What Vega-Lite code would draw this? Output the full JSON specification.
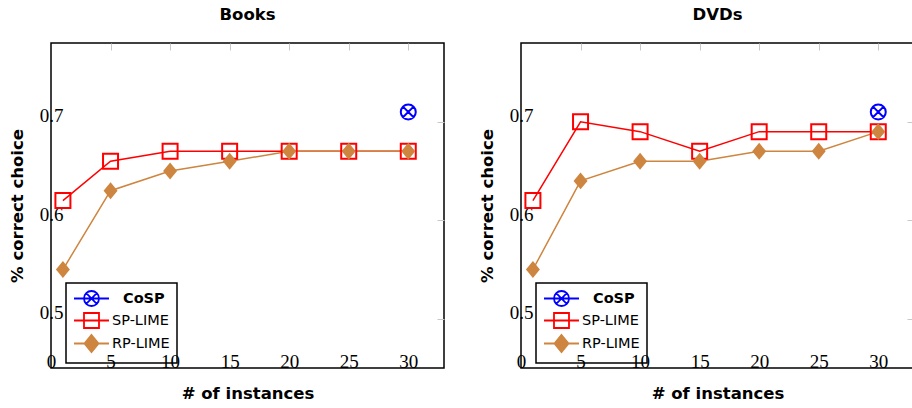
{
  "$schema": "https://vega.github.io/schema/vega-lite/v6.json",
  "background": "white",
  "padding": {"left": 8, "top": 6, "right": 0, "bottom": 0},
  "data": {"values": [
    {"panel": "Books", "series": "SP-LIME", "n": 1, "v": 0.62},
    {"panel": "Books", "series": "SP-LIME", "n": 5, "v": 0.66},
    {"panel": "Books", "series": "SP-LIME", "n": 10, "v": 0.67},
    {"panel": "Books", "series": "SP-LIME", "n": 15, "v": 0.67},
    {"panel": "Books", "series": "SP-LIME", "n": 20, "v": 0.67},
    {"panel": "Books", "series": "SP-LIME", "n": 25, "v": 0.67},
    {"panel": "Books", "series": "SP-LIME", "n": 30, "v": 0.67},
    {"panel": "Books", "series": "RP-LIME", "n": 1, "v": 0.55},
    {"panel": "Books", "series": "RP-LIME", "n": 5, "v": 0.63},
    {"panel": "Books", "series": "RP-LIME", "n": 10, "v": 0.65},
    {"panel": "Books", "series": "RP-LIME", "n": 15, "v": 0.66},
    {"panel": "Books", "series": "RP-LIME", "n": 20, "v": 0.67},
    {"panel": "Books", "series": "RP-LIME", "n": 25, "v": 0.67},
    {"panel": "Books", "series": "RP-LIME", "n": 30, "v": 0.67},
    {"panel": "Books", "series": "CoSP", "n": 30, "v": 0.71},
    {"panel": "DVDs", "series": "SP-LIME", "n": 1, "v": 0.62},
    {"panel": "DVDs", "series": "SP-LIME", "n": 5, "v": 0.70},
    {"panel": "DVDs", "series": "SP-LIME", "n": 10, "v": 0.69},
    {"panel": "DVDs", "series": "SP-LIME", "n": 15, "v": 0.67},
    {"panel": "DVDs", "series": "SP-LIME", "n": 20, "v": 0.69},
    {"panel": "DVDs", "series": "SP-LIME", "n": 25, "v": 0.69},
    {"panel": "DVDs", "series": "SP-LIME", "n": 30, "v": 0.69},
    {"panel": "DVDs", "series": "RP-LIME", "n": 1, "v": 0.55},
    {"panel": "DVDs", "series": "RP-LIME", "n": 5, "v": 0.64},
    {"panel": "DVDs", "series": "RP-LIME", "n": 10, "v": 0.66},
    {"panel": "DVDs", "series": "RP-LIME", "n": 15, "v": 0.66},
    {"panel": "DVDs", "series": "RP-LIME", "n": 20, "v": 0.67},
    {"panel": "DVDs", "series": "RP-LIME", "n": 25, "v": 0.67},
    {"panel": "DVDs", "series": "RP-LIME", "n": 30, "v": 0.69},
    {"panel": "DVDs", "series": "CoSP", "n": 30, "v": 0.71}
  ]},
  "spacing": 32,
  "resolve": {"legend": {"color": "independent"}},
  "hconcat": [
    {
      "title": "Books",
      "width": 393, "height": 325,
      "transform": [{"filter": "datum.panel === 'Books'"}],
      "resolve": {"axis": {"x": "independent", "y": "independent"}},
      "layer": [
        {
          "transform": [{"filter": "datum.series !== 'CoSP'"}],
          "mark": {"type": "line", "strokeWidth": 1.5},
          "encoding": {
            "x": {"field": "n", "type": "quantitative", "scale": {"domain": [0, 33], "nice": false, "zero": false},
                  "axis": {"orient": "bottom", "zindex": 2, "values": [0, 5, 10, 15, 20, 25, 30], "title": "# of instances", "ticks": false, "tickSize": 0, "domain": false, "grid": false, "labelPadding": -1, "labelBaseline": "alphabetic", "labelFlush": false, "labelOverlap": false, "titlePadding": 14}},
            "y": {"field": "v", "type": "quantitative", "scale": {"domain": [0.45, 0.78], "nice": false, "zero": false},
                  "axis": {"orient": "left", "values": [0.5, 0.6, 0.7], "format": ".1f", "title": "% correct choice", "ticks": false, "tickSize": 0, "domain": false, "grid": false, "labelPadding": 0, "labelAlign": "center", "labelBaseline": "alphabetic", "labelFlush": false, "labelOverlap": false, "titlePadding": 14}},
            "color": {"field": "series", "type": "nominal", "scale": {"domain": ["CoSP", "SP-LIME", "RP-LIME"], "range": ["#0000ff", "#ff0000", "#cd853f"]},
                      "legend": {
                        "orient": "none", "legendX": 15, "legendY": 240, "title": null, "zindex": 1,
                        "encode": {
                          "legend": {"update": {"strokeWidth": {"value": 1.5}}},
                          "symbols": {"update": {
                            "shape": {"signal": "datum.value === 'CoSP' ? 'M-2.33,0H2.33M1,0A1,1,0,1,1,-1,0A1,1,0,1,1,1,0ZM-0.707,-0.707L0.707,0.707M-0.707,0.707L0.707,-0.707' : datum.value === 'SP-LIME' ? 'M-2.33,0H2.33M-1,-1H1V1H-1Z' : 'M-2.33,0H2.33M0,-1.13L0.93,0L0,1.13L-0.93,0Z'"},
                            "fill": {"signal": "datum.value === 'RP-LIME' ? '#cd853f' : 'transparent'"},
                            "opacity": {"value": 1}
                          }},
                          "labels": {"update": {
                            "fontWeight": {"signal": "datum.value === 'CoSP' ? 'bold' : 'normal'"},
                            "dx": {"signal": "datum.value === 'CoSP' ? 11 : 0"}
                          }}
                        }
                      }}
          }
        },
        {
          "transform": [{"filter": "datum.series === 'SP-LIME'"}],
          "mark": {"type": "point", "shape": "square", "filled": false, "size": 225, "strokeWidth": 2, "color": "#ff0000", "opacity": 1},
          "encoding": {
            "x": {"field": "n", "type": "quantitative", "axis": {"orient": "top", "values": [5, 10, 15, 20, 25, 30], "labels": false, "title": null, "ticks": true, "tickSize": -7, "tickColor": "#c8c8c8", "domain": false, "grid": false}},
            "y": {"field": "v", "type": "quantitative", "axis": {"orient": "right", "values": [0.5, 0.6, 0.7], "labels": false, "title": null, "ticks": true, "tickSize": -7, "tickColor": "#c8c8c8", "domain": false, "grid": false}}
          }
        },
        {
          "transform": [{"filter": "datum.series === 'RP-LIME'"}],
          "mark": {"type": "point", "shape": "M0,-1.13L0.93,0L0,1.13L-0.93,0Z", "filled": true, "size": 225, "color": "#cd853f", "opacity": 1},
          "encoding": {
            "x": {"field": "n", "type": "quantitative", "axis": null},
            "y": {"field": "v", "type": "quantitative", "axis": null}
          }
        },
        {
          "transform": [{"filter": "datum.series === 'CoSP'"}],
          "mark": {"type": "point", "shape": "M1,0A1,1,0,1,1,-1,0A1,1,0,1,1,1,0ZM-0.707,-0.707L0.707,0.707M-0.707,0.707L0.707,-0.707", "filled": false, "size": 225, "strokeWidth": 2, "color": "#0000ff", "opacity": 1},
          "encoding": {
            "x": {"field": "n", "type": "quantitative", "axis": null},
            "y": {"field": "v", "type": "quantitative", "axis": null}
          }
        }
      ]
    },
    {
      "title": "DVDs",
      "width": 393, "height": 325,
      "transform": [{"filter": "datum.panel === 'DVDs'"}],
      "resolve": {"axis": {"x": "independent", "y": "independent"}},
      "layer": [
        {
          "transform": [{"filter": "datum.series !== 'CoSP'"}],
          "mark": {"type": "line", "strokeWidth": 1.5},
          "encoding": {
            "x": {"field": "n", "type": "quantitative", "scale": {"domain": [0, 33], "nice": false, "zero": false},
                  "axis": {"orient": "bottom", "zindex": 2, "values": [0, 5, 10, 15, 20, 25, 30], "title": "# of instances", "ticks": false, "tickSize": 0, "domain": false, "grid": false, "labelPadding": -1, "labelBaseline": "alphabetic", "labelFlush": false, "labelOverlap": false, "titlePadding": 14}},
            "y": {"field": "v", "type": "quantitative", "scale": {"domain": [0.45, 0.78], "nice": false, "zero": false},
                  "axis": {"orient": "left", "values": [0.5, 0.6, 0.7], "format": ".1f", "title": "% correct choice", "ticks": false, "tickSize": 0, "domain": false, "grid": false, "labelPadding": 0, "labelAlign": "center", "labelBaseline": "alphabetic", "labelFlush": false, "labelOverlap": false, "titlePadding": 14}},
            "color": {"field": "series", "type": "nominal", "scale": {"domain": ["CoSP", "SP-LIME", "RP-LIME"], "range": ["#0000ff", "#ff0000", "#cd853f"]},
                      "legend": {
                        "orient": "none", "legendX": 15, "legendY": 240, "title": null, "zindex": 1,
                        "encode": {
                          "legend": {"update": {"strokeWidth": {"value": 1.5}}},
                          "symbols": {"update": {
                            "shape": {"signal": "datum.value === 'CoSP' ? 'M-2.33,0H2.33M1,0A1,1,0,1,1,-1,0A1,1,0,1,1,1,0ZM-0.707,-0.707L0.707,0.707M-0.707,0.707L0.707,-0.707' : datum.value === 'SP-LIME' ? 'M-2.33,0H2.33M-1,-1H1V1H-1Z' : 'M-2.33,0H2.33M0,-1.13L0.93,0L0,1.13L-0.93,0Z'"},
                            "fill": {"signal": "datum.value === 'RP-LIME' ? '#cd853f' : 'transparent'"},
                            "opacity": {"value": 1}
                          }},
                          "labels": {"update": {
                            "fontWeight": {"signal": "datum.value === 'CoSP' ? 'bold' : 'normal'"},
                            "dx": {"signal": "datum.value === 'CoSP' ? 11 : 0"}
                          }}
                        }
                      }}
          }
        },
        {
          "transform": [{"filter": "datum.series === 'SP-LIME'"}],
          "mark": {"type": "point", "shape": "square", "filled": false, "size": 225, "strokeWidth": 2, "color": "#ff0000", "opacity": 1},
          "encoding": {
            "x": {"field": "n", "type": "quantitative", "axis": {"orient": "top", "values": [5, 10, 15, 20, 25, 30], "labels": false, "title": null, "ticks": true, "tickSize": -7, "tickColor": "#c8c8c8", "domain": false, "grid": false}},
            "y": {"field": "v", "type": "quantitative", "axis": {"orient": "right", "values": [0.5, 0.6, 0.7], "labels": false, "title": null, "ticks": true, "tickSize": -7, "tickColor": "#c8c8c8", "domain": false, "grid": false}}
          }
        },
        {
          "transform": [{"filter": "datum.series === 'RP-LIME'"}],
          "mark": {"type": "point", "shape": "M0,-1.13L0.93,0L0,1.13L-0.93,0Z", "filled": true, "size": 225, "color": "#cd853f", "opacity": 1},
          "encoding": {
            "x": {"field": "n", "type": "quantitative", "axis": null},
            "y": {"field": "v", "type": "quantitative", "axis": null}
          }
        },
        {
          "transform": [{"filter": "datum.series === 'CoSP'"}],
          "mark": {"type": "point", "shape": "M1,0A1,1,0,1,1,-1,0A1,1,0,1,1,1,0ZM-0.707,-0.707L0.707,0.707M-0.707,0.707L0.707,-0.707", "filled": false, "size": 225, "strokeWidth": 2, "color": "#0000ff", "opacity": 1},
          "encoding": {
            "x": {"field": "n", "type": "quantitative", "axis": null},
            "y": {"field": "v", "type": "quantitative", "axis": null}
          }
        }
      ]
    }
  ],
  "config": {
    "view": {"stroke": "#000", "strokeWidth": 1.5},
    "title": {"font": "DejaVu Sans", "fontWeight": "bold", "fontSize": 16.5, "color": "#000", "offset": 19},
    "axis": {"labelFont": "Liberation Serif", "labelFontSize": 19, "labelColor": "#000", "titleFont": "DejaVu Sans", "titleFontWeight": "bold", "titleFontSize": 16.5, "titleColor": "#000"},
    "legend": {
      "labelFont": "DejaVu Sans", "labelFontSize": 14.5, "labelColor": "#000",
      "padding": 7, "strokeColor": "#000", "fillColor": "#fff",
      "rowPadding": -1, "symbolSize": 225, "symbolStrokeWidth": 1.8,
      "symbolOffset": 10, "labelOffset": 12
    }
  }
}
